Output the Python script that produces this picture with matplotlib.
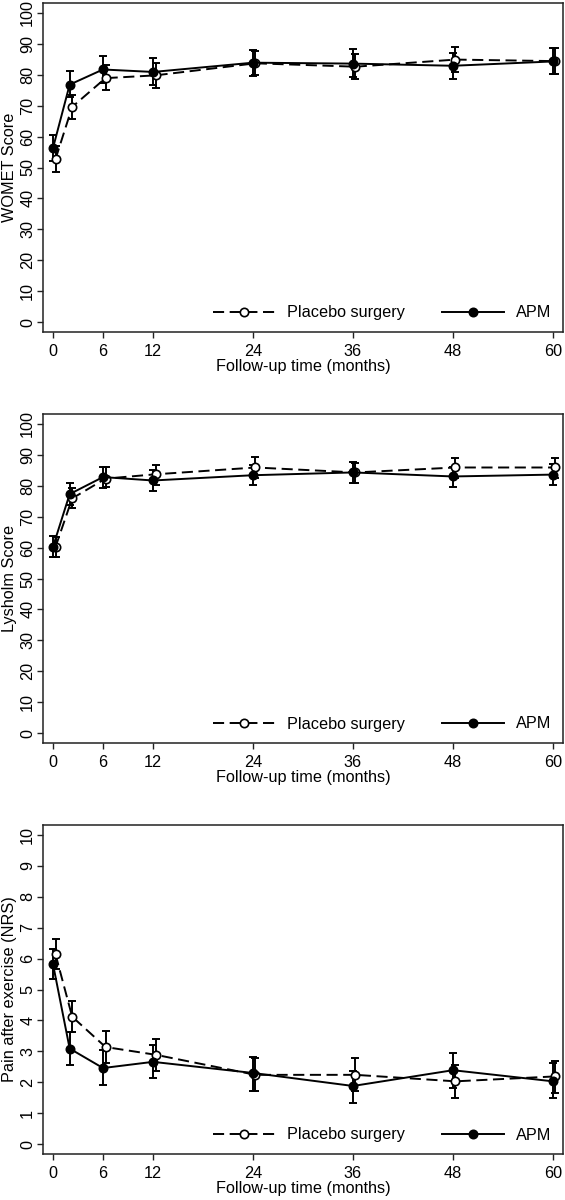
import matplotlib
matplotlib.use('Agg')
import matplotlib.pyplot as plt
from matplotlib.lines import Line2D

plt.rcParams['font.family'] = ['Liberation Sans', 'DejaVu Sans']
plt.rcParams['lines.scale_dashes'] = False

# ---------------- data ----------------
months = [0, 2, 6, 12, 24, 36, 48, 60]
placebo_offset = 0.3
xticks = [0, 6, 12, 24, 36, 48, 60]
xtick_labels = ['0', '6', '12', '24', '36', '48', '60']
series_names = ['Placebo surgery', 'APM']

womet_placebo = [52.7, 69.6, 78.9, 79.8, 83.7, 82.6, 84.9, 84.4]
womet_placebo_lo = [48.6, 65.7, 75.0, 75.8, 79.8, 78.6, 80.9, 80.2]
womet_placebo_hi = [56.8, 73.6, 83.1, 83.9, 87.6, 86.7, 89.0, 88.7]
womet_apm = [56.3, 76.8, 81.7, 80.9, 83.9, 83.6, 82.9, 84.3]
womet_apm_lo = [52.2, 72.9, 77.2, 76.6, 79.5, 79.3, 78.7, 80.1]
womet_apm_hi = [60.5, 81.2, 86.1, 85.3, 87.9, 88.2, 86.9, 88.7]

lysholm_placebo = [60.2, 75.9, 82.3, 83.7, 85.9, 84.3, 85.9, 85.9]
lysholm_placebo_lo = [57.0, 72.7, 79.5, 80.3, 82.4, 81.0, 82.4, 82.4]
lysholm_placebo_hi = [63.5, 79.2, 86.0, 86.7, 89.2, 87.5, 89.1, 89.1]
lysholm_apm = [60.3, 77.3, 82.8, 81.7, 83.4, 84.3, 83.0, 83.6]
lysholm_apm_lo = [56.9, 73.8, 79.4, 78.4, 80.1, 80.8, 79.5, 80.3]
lysholm_apm_hi = [63.8, 80.8, 86.2, 85.0, 86.7, 87.7, 86.2, 87.1]

pain_placebo = [6.14, 4.12, 3.14, 2.89, 2.24, 2.24, 2.03, 2.19]
pain_placebo_lo = [5.66, 3.61, 2.62, 2.37, 1.71, 1.72, 1.49, 1.65]
pain_placebo_hi = [6.63, 4.64, 3.67, 3.39, 2.80, 2.78, 2.56, 2.70]
pain_apm = [5.82, 3.09, 2.46, 2.66, 2.30, 1.88, 2.39, 2.03]
pain_apm_lo = [5.33, 2.55, 1.92, 2.13, 1.73, 1.33, 1.83, 1.49]
pain_apm_hi = [6.30, 3.64, 3.05, 3.21, 2.81, 2.38, 2.94, 2.62]

panel_ylabels = ['WOMET Score', 'Lysholm Score', 'Pain after exercise (NRS)']
panel_yticks = [list(range(0, 101, 10)), list(range(0, 101, 10)), list(range(0, 11, 1))]
panel_ylims = [(-3.2, 103.2), (-3.2, 103.2), (-0.32, 10.32)]
xlabel = 'Follow-up time (months)'

panels = [
    (womet_placebo, womet_placebo_lo, womet_placebo_hi, womet_apm, womet_apm_lo, womet_apm_hi),
    (lysholm_placebo, lysholm_placebo_lo, lysholm_placebo_hi, lysholm_apm, lysholm_apm_lo, lysholm_apm_hi),
    (pain_placebo, pain_placebo_lo, pain_placebo_hi, pain_apm, pain_apm_lo, pain_apm_hi),
]

# ---------------- style ----------------
W, H = 565, 1200
FS = 11.7
LW = 1.4
DASH = (8, 4)
MS = 6.0
axes_px = [(43, 3, 563, 332), (43, 414, 563, 743), (43, 825, 563, 1154)]

fig = plt.figure(figsize=(W / 100, H / 100), dpi=100)

for i, (p, plo, phi, a, alo, ahi) in enumerate(panels):
    l, t, r, b = axes_px[i]
    ax = fig.add_axes([l / W, 1 - b / H, (r - l) / W, (b - t) / H])
    xp = [m + placebo_offset for m in months]
    xa = months

    # error bars
    ax.errorbar(xp, p, yerr=[[v - lo for v, lo in zip(p, plo)], [hi - v for v, hi in zip(p, phi)]],
                fmt='none', ecolor='black', elinewidth=LW, capsize=3.0, capthick=LW, zorder=2)
    ax.errorbar(xa, a, yerr=[[v - lo for v, lo in zip(a, alo)], [hi - v for v, hi in zip(a, ahi)]],
                fmt='none', ecolor='black', elinewidth=LW, capsize=3.0, capthick=LW, zorder=2)

    # lines + markers
    lp, = ax.plot(xp, p, color='black', lw=LW, linestyle=(0, DASH), marker='o', ms=MS,
                  mfc='white', mec='black', mew=1.2, zorder=3)
    la, = ax.plot(xa, a, color='black', lw=LW, linestyle='-', marker='o', ms=MS,
                  mfc='black', mec='black', mew=1.2, zorder=4)

    ax.set_xlim(-1.2, 61.2)
    ax.set_ylim(*panel_ylims[i])
    ax.set_xticks(xticks)
    ax.set_xticklabels(xtick_labels, fontsize=FS)
    ax.set_yticks(panel_yticks[i])
    ax.set_yticklabels([str(v) for v in panel_yticks[i]], fontsize=FS, rotation=90, va='center')
    ax.tick_params(axis='x', length=4.3, width=1.0, pad=4.3, direction='out', color='#222222')
    ax.tick_params(axis='y', length=4.3, width=1.0, pad=1.3, direction='out', color='#222222')
    for s in ax.spines.values():
        s.set_linewidth(1.1)
        s.set_color('#222222')
    ax.set_ylabel(panel_ylabels[i], fontsize=FS, labelpad=2)
    ax.set_xlabel(xlabel, fontsize=FS, labelpad=0)

    hp = Line2D([], [], color='black', lw=LW, linestyle=(0, DASH), marker='o', ms=MS,
                mfc='white', mec='black', mew=1.2)
    ha = Line2D([], [], color='black', lw=LW, linestyle='-', marker='o', ms=MS,
                mfc='black', mec='black', mew=1.2)
    ax.legend([hp, ha], series_names, ncol=2, frameon=False, fontsize=FS,
              loc='center right', bbox_to_anchor=((551 - l) / (r - l), (b - (b - 19)) / (b - t)),
              borderpad=0, borderaxespad=0, handlelength=3.8, handletextpad=0.74,
              columnspacing=2.27)

fig.savefig('out.png', dpi=100)
